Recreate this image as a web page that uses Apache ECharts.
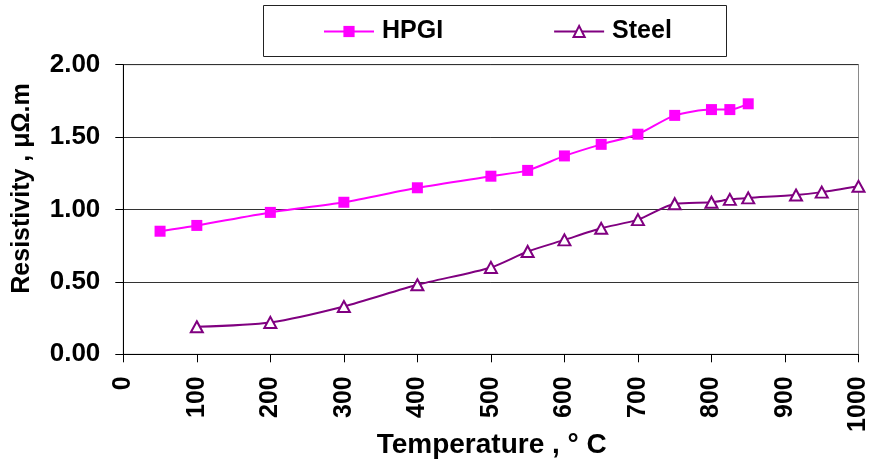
<!DOCTYPE html>
<html>
<head>
<meta charset="utf-8">
<script src="https://cdn.jsdelivr.net/npm/echarts@6/dist/echarts.min.js"></script>
<style>
html,body{margin:0;padding:0;background:#fff;}
#chart{width:871px;height:468px;}
</style>
</head>
<body>
<div id="chart"></div>
<script>
// Data
var hpgiTemp = [50, 100, 200, 300, 400, 500, 550, 600, 650, 700, 750, 800, 825, 850];
var hpgiRes  = [0.85, 0.89, 0.98, 1.05, 1.15, 1.23, 1.27, 1.37, 1.45, 1.52, 1.65, 1.69, 1.69, 1.73];
var steelTemp = [100, 200, 300, 400, 500, 550, 600, 650, 700, 750, 800, 825, 850, 915, 950, 1000];
var steelRes  = [0.19, 0.22, 0.33, 0.48, 0.60, 0.71, 0.79, 0.87, 0.93, 1.04, 1.05, 1.07, 1.08, 1.10, 1.12, 1.16];
var seriesNames = ['HPGI', 'Steel'];
var xTitle = 'Temperature , \u00B0 C';
var yTitle = 'Resistivity , \u03BC\u03A9.m';

function pairs(xs, ys) { return xs.map(function (x, i) { return [x, ys[i]]; }); }

var FONT = '"Liberation Sans", Arial, sans-serif';
var chart = echarts.init(document.getElementById('chart'), null, {renderer: 'canvas'});
chart.setOption({
  animation: false,
  backgroundColor: '#fff',
  grid: {left: 123.3, right: 11.7, top: 64.7, bottom: 113.7, show: true, borderColor: '#8a8a8a', borderWidth: 1, backgroundColor: 'transparent'},
  legend: {
    left: 323, top: 19, padding: 0,
    itemWidth: 50, itemHeight: 14, itemGap: 110,
    textStyle: {fontSize: 25, fontWeight: 'bold', color: '#000', fontFamily: FONT, padding: [0, 0, 0, 3]},
    data: seriesNames
  },
  xAxis: {
    type: 'value', min: 0, max: 1000, interval: 100,
    axisLine: {show: true, onZero: false, lineStyle: {color: '#000', width: 1}},
    axisTick: {show: true, length: 8, lineStyle: {color: '#000'}},
    axisLabel: {rotate: 90, margin: 22, fontSize: 25, fontWeight: 'bold', color: '#000', fontFamily: FONT,
      formatter: function (v) { return String(v); }},
    splitLine: {show: false}
  },
  yAxis: {
    type: 'value', min: 0, max: 2, interval: 0.5,
    axisLine: {show: true, onZero: false, lineStyle: {color: '#000', width: 1}},
    axisTick: {show: true, length: 8, lineStyle: {color: '#000'}},
    axisLabel: {margin: 23, fontSize: 26, fontWeight: 'bold', color: '#000', fontFamily: FONT,
      formatter: function (v) { return v.toFixed(2); }},
    splitLine: {show: true, lineStyle: {color: '#333', width: 1}}
  },
  graphic: [
    {type: 'rect', left: 263, top: 5, z: 0, shape: {width: 463, height: 51}, style: {fill: '#fff', stroke: '#222', lineWidth: 1}},
    {type: 'text', x: 22, y: 188.5, rotation: Math.PI / 2,
      style: {text: yTitle, font: 'bold 25px ' + FONT, fill: '#000', align: 'center', verticalAlign: 'middle'}},
    {type: 'text', x: 491.7, y: 445.5,
      style: {text: xTitle, font: 'bold 28px ' + FONT, fill: '#000', align: 'center', verticalAlign: 'middle'}}
  ],
  series: [
    {
      name: seriesNames[0], type: 'line', data: pairs(hpgiTemp, hpgiRes), smooth: 0.25,
      symbol: 'rect', symbolSize: 11,
      lineStyle: {color: '#ff00ff', width: 2},
      itemStyle: {color: '#ff00ff', borderColor: '#ff00ff', borderWidth: 0},
      z: 3
    },
    {
      name: seriesNames[1], type: 'line', data: pairs(steelTemp, steelRes), smooth: 0.25,
      symbol: 'triangle', symbolSize: [12, 11],
      lineStyle: {color: '#800080', width: 2},
      itemStyle: {color: '#ffffff', borderColor: '#800080', borderWidth: 2},
      z: 3
    }
  ]
});
</script>
</body>
</html>
